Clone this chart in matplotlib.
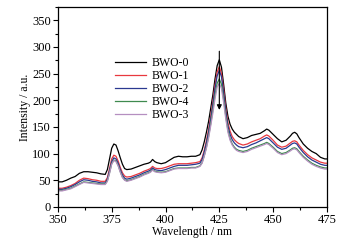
import numpy as np
import matplotlib.pyplot as plt
from matplotlib.ticker import MultipleLocator

plt.rcParams['font.family'] = ['Liberation Serif', 'DejaVu Serif']

# wavelengths (nm)
wl = [350, 352, 354, 356, 358, 360, 362, 364, 366, 368, 370, 372, 373, 374, 375,
      376, 377, 378, 379, 380, 381, 382, 384, 386, 388, 390, 392, 393, 394, 395,
      396, 398, 400, 402, 404, 406, 408, 410, 412, 414, 416, 417, 418, 419, 420,
      421, 422, 423, 424, 425, 426, 427, 428, 429, 430, 431, 432, 433, 434, 436,
      438, 440, 442, 444, 446, 447, 448, 450, 452, 454, 456, 458, 459, 460, 461,
      462, 464, 466, 468, 470, 472, 474, 475]

bwo0 = [47, 47, 50, 54, 57, 63, 66, 66, 65, 64, 62, 61, 70, 90, 110,
        118, 116, 105, 92, 80, 72, 70, 71, 74, 77, 80, 82, 84, 89, 85,
        83, 81, 83, 88, 93, 95, 94, 94, 95, 95, 98, 107, 122, 140, 160,
        185, 210, 240, 265, 276, 262, 230, 195, 170, 155, 146, 140, 136, 132, 128,
        130, 134, 136, 138, 143, 146, 144, 136, 128, 122, 125, 133, 138, 140, 137,
        130, 118, 110, 104, 100, 93, 90, 90]

bwo1 = [35, 35, 37, 40, 44, 50, 54, 53, 51, 50, 48, 48, 55, 72, 90,
        97, 95, 86, 74, 64, 58, 56, 57, 60, 63, 67, 70, 72, 76, 73,
        72, 72, 74, 77, 80, 81, 81, 81, 82, 83, 85, 92, 106, 124, 145,
        170, 198, 228, 253, 263, 250, 220, 185, 158, 142, 132, 126, 122, 119, 116,
        118, 122, 125, 128, 133, 135, 133, 125, 116, 112, 114, 120, 123, 124, 122,
        116, 106, 98, 92, 88, 84, 82, 82]

bwo2 = [33, 33, 35, 38, 42, 47, 51, 50, 48, 47, 45, 45, 52, 68, 85,
        92, 90, 82, 70, 60, 54, 52, 54, 57, 60, 64, 67, 69, 73, 70,
        69, 68, 70, 73, 76, 78, 78, 78, 79, 80, 82, 89, 103, 120, 140,
        165, 192, 222, 246, 256, 244, 214, 180, 152, 136, 126, 120, 116, 113, 111,
        113, 117, 120, 124, 128, 130, 128, 120, 112, 108, 110, 116, 119, 120, 118,
        112, 102, 94, 88, 84, 80, 78, 78]

bwo4 = [31, 31, 33, 35, 39, 43, 47, 46, 45, 44, 43, 43, 49, 64, 81,
        88, 86, 78, 66, 56, 51, 49, 51, 54, 57, 61, 64, 66, 70, 67,
        66, 65, 66, 69, 72, 73, 73, 73, 74, 74, 77, 83, 96, 112, 132,
        156, 182, 210, 232, 240, 230, 202, 170, 144, 128, 118, 112, 108, 106, 104,
        106, 110, 113, 116, 119, 121, 119, 112, 104, 100, 102, 107, 110, 111, 109,
        104, 95, 88, 82, 78, 75, 73, 73]

bwo3 = [30, 30, 32, 34, 38, 42, 46, 45, 44, 43, 42, 42, 48, 63, 80,
        87, 85, 77, 65, 55, 50, 48, 50, 53, 56, 60, 63, 65, 69, 66,
        65, 64, 65, 68, 71, 72, 72, 72, 73, 73, 76, 82, 95, 110, 129,
        152, 176, 203, 225, 232, 222, 196, 165, 140, 125, 116, 110, 106, 104, 102,
        104, 108, 111, 114, 117, 119, 117, 110, 102, 98, 100, 105, 108, 109, 107,
        102, 93, 86, 80, 76, 73, 71, 71]

labels = ['BWO-0', 'BWO-1', 'BWO-2', 'BWO-4', 'BWO-3']
colors = ['black', '#e8383f', '#2b3990', '#3f8a4f', '#b58fc0']
series = [bwo0, bwo1, bwo2, bwo4, bwo3]

fig = plt.figure(figsize=(3.55, 2.49), dpi=100)
ax = fig.add_axes([0.163, 0.169, 0.758, 0.803])

for y, lab, c in zip(series, labels, colors):
    ax.plot(wl, y, color=c, lw=0.9, label=lab)

# arrow marking the decreasing peak
ax.annotate('', xy=(425, 182), xytext=(425, 292),
            arrowprops=dict(arrowstyle='-|>', color='black', lw=0.8,
                            mutation_scale=7, shrinkA=0, shrinkB=0))

ax.set_xlim(350, 475)
ax.set_ylim(0, 375)
ax.xaxis.set_major_locator(MultipleLocator(25))
ax.xaxis.set_minor_locator(MultipleLocator(12.5))
ax.yaxis.set_major_locator(MultipleLocator(50))
ax.yaxis.set_minor_locator(MultipleLocator(25))
ax.tick_params(which='major', length=3.5, width=0.8, labelsize=9, pad=1.5)
ax.tick_params(which='minor', length=2, width=0.8)
for s in ax.spines.values():
    s.set_linewidth(0.9)

ax.set_xlabel('Wavelength / nm', fontsize=8.5, labelpad=0)
ax.set_ylabel('Intensity / a.u.', fontsize=8.5, labelpad=1)

ax.legend(loc='upper left', bbox_to_anchor=(0.19, 0.78), frameon=False,
          fontsize=8.5, handlelength=2.6, handletextpad=0.5,
          labelspacing=0.08, borderpad=0)

fig.savefig('out.png', dpi=100)
